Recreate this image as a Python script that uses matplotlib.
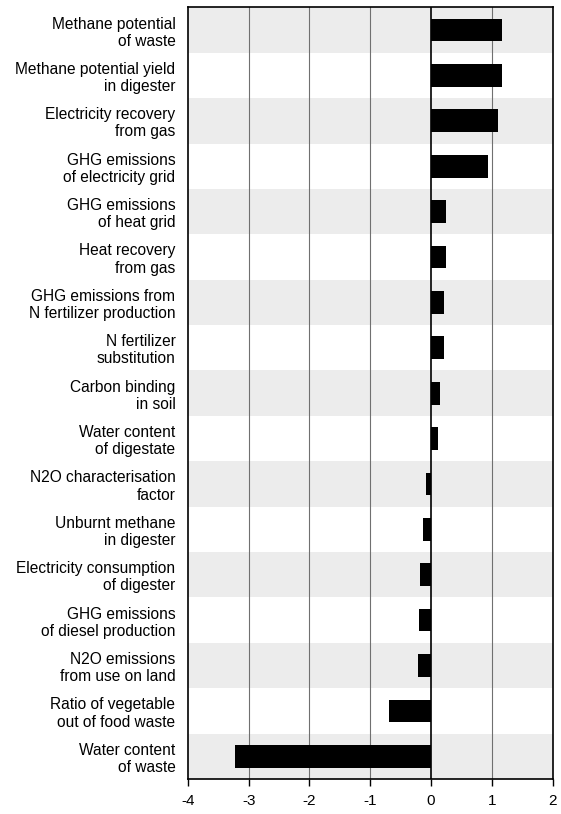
import numpy as np
import matplotlib
matplotlib.use("Agg")
import matplotlib.pyplot as plt

plt.rcParams['font.family'] = ['Liberation Sans', 'DejaVu Sans']

# parameters, top to bottom
labels = [
    "Methane potential\nof waste",
    "Methane potential yield\nin digester",
    "Electricity recovery\nfrom gas",
    "GHG emissions\nof electricity grid",
    "GHG emissions\nof heat grid",
    "Heat recovery\nfrom gas",
    "GHG emissions from\nN fertilizer production",
    "N fertilizer\nsubstitution",
    "Carbon binding\nin soil",
    "Water content\nof digestate",
    "N2O characterisation\nfactor",
    "Unburnt methane\nin digester",
    "Electricity consumption\nof digester",
    "GHG emissions\nof diesel production",
    "N2O emissions\nfrom use on land",
    "Ratio of vegetable\nout of food waste",
    "Water content\nof waste",
]
values = [1.16, 1.16, 1.11, 0.93, 0.25, 0.25, 0.21, 0.21, 0.14, 0.12,
          -0.09, -0.13, -0.18, -0.20, -0.22, -0.69, -3.23]
xticks = [-4, -3, -2, -1, 0, 1, 2]

fig = plt.figure(figsize=(5.61, 8.14), dpi=100)
ax = fig.add_axes([0.335, 0.043, 0.65, 0.948])

n = len(labels)
y = np.arange(n)

# alternating background bands
for i in range(n):
    if i % 2 == 0:
        ax.axhspan(i - 0.5, i + 0.5, color='#ececec', lw=0, zorder=0)

for xv in [-3, -2, -1, 1]:
    ax.axvline(xv, color='#707070', lw=0.8, zorder=1)
ax.axvline(0, color='black', lw=1.2, zorder=3)

ax.barh(y, values, height=0.5, color='black', zorder=2)

ax.set_ylim(n - 0.5, -0.5)
ax.set_xlim(-4, 2)
ax.set_xticks(xticks)
ax.set_xticklabels([str(t) for t in xticks], fontsize=11)
ax.set_yticks(y)
ax.set_yticklabels(labels, fontsize=11.2, linespacing=1.18)
ax.tick_params(axis='y', length=0, pad=9)
ax.tick_params(axis='x', length=5, width=1, direction='out', pad=6)
for s in ax.spines.values():
    s.set_linewidth(1.2)

fig.savefig("out.png", dpi=100)
